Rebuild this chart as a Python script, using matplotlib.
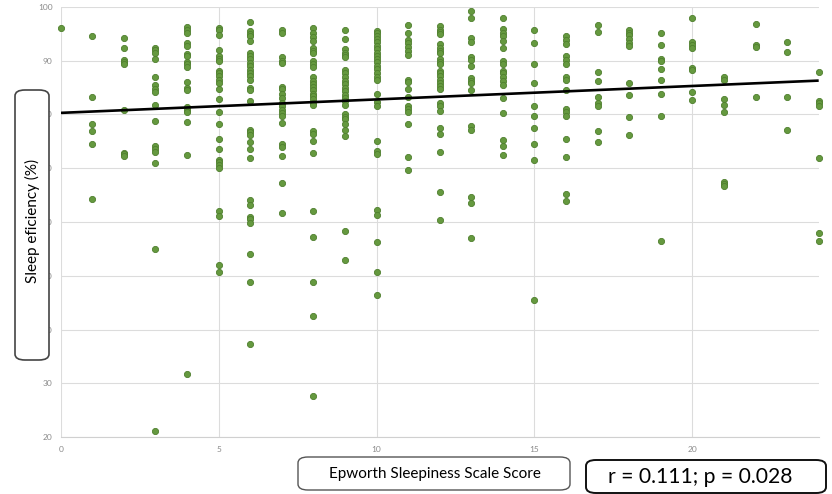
import numpy as np
import matplotlib
matplotlib.use("Agg")
import matplotlib.pyplot as plt
from matplotlib.patches import FancyBboxPatch

# Epworth Sleepiness Scale score (x) and sleep efficiency values per score (y)
ess_scores = list(range(25))
sleep_eff_by_score = [
    [96.0],
    [94.6, 83.2, 78.3, 76.9, 74.6, 64.2],
    [94.3, 92.3, 90.2, 89.8, 89.3, 80.9, 72.9, 72.6, 72.3],
    [92.4, 92.0, 91.5, 90.4, 87.0, 85.4, 84.8, 84.2, 81.8, 78.7, 74.1, 73.6,
     73.1, 71.0, 55.0, 21.1],
    [96.2, 95.7, 95.2, 93.2, 92.7, 91.2, 90.8, 89.8, 89.3, 88.9, 86.0, 85.0,
     84.5, 81.3, 80.8, 80.4, 78.6, 72.5, 31.7],
    [96.1, 95.7, 94.7, 91.9, 90.9, 90.4, 89.9, 88.0, 87.7, 87.2, 86.5, 85.8,
     84.8, 82.8, 80.5, 78.3, 75.4, 73.5, 71.6, 71.1, 70.7, 70.1, 62.0, 61.1,
     52.0, 50.7],
    [97.2, 95.5, 95.0, 94.6, 93.7, 91.5, 90.9, 90.4, 89.5, 89.0, 88.2, 87.7,
     87.2, 86.4, 85.0, 84.5, 82.5, 77.2, 76.7, 76.1, 74.9, 73.5, 72.0, 64.1,
     63.1, 61.0, 60.5, 59.9, 54.1, 48.9, 37.4],
    [95.7, 95.2, 90.6, 90.0, 89.5, 85.2, 84.7, 83.9, 83.1, 82.2, 81.5, 80.8,
     80.2, 79.7, 78.5, 74.6, 74.0, 72.2, 67.2, 61.7],
    [96.0, 95.2, 94.4, 93.7, 92.3, 91.8, 91.4, 90.0, 89.4, 88.8, 87.0, 86.2,
     85.6, 85.1, 84.5, 83.9, 83.4, 82.8, 82.2, 81.8, 76.9, 76.3, 75.0, 72.9,
     62.0, 57.2, 48.9, 42.6, 27.6],
    [95.7, 94.1, 92.1, 91.5, 91.0, 90.6, 88.3, 87.7, 87.0, 86.2, 85.6, 85.0,
     84.4, 83.7, 83.1, 82.5, 81.7, 80.1, 79.6, 79.1, 78.3, 77.1, 76.0, 58.4,
     53.0],
    [95.5, 95.1, 94.6, 94.0, 93.4, 92.7, 92.1, 91.5, 90.9, 90.3, 89.7, 89.0,
     88.4, 87.7, 87.0, 86.5, 83.9, 82.3, 81.5, 75.0, 73.2, 72.6, 62.2, 61.4,
     56.3, 50.7, 46.4],
    [96.6, 95.2, 93.9, 93.2, 92.6, 91.8, 91.0, 86.5, 86.0, 84.8, 83.3, 81.6,
     81.0, 80.4, 78.3, 72.1, 69.6],
    [96.4, 95.8, 95.3, 94.9, 93.1, 92.4, 91.8, 91.4, 90.3, 89.8, 89.3, 88.1,
     87.7, 87.2, 86.5, 85.9, 85.3, 84.8, 82.1, 81.6, 80.6, 77.4, 76.3, 73.0,
     65.6, 60.4],
    [99.2, 98.0, 94.2, 93.4, 90.6, 90.1, 89.0, 86.7, 86.2, 85.9, 84.5, 77.9,
     77.2, 64.7, 63.6, 57.0],
    [98.0, 95.9, 95.2, 94.5, 93.7, 92.3, 90.0, 89.4, 88.1, 87.7, 87.0, 86.2,
     85.4, 83.0, 80.3, 75.3, 74.1, 72.4],
    [95.7, 93.2, 89.3, 85.9, 81.6, 79.7, 77.4, 74.5, 71.6, 45.6],
    [94.5, 93.9, 93.1, 90.9, 90.1, 89.3, 86.9, 86.4, 84.6, 81.1, 80.4, 79.8,
     75.5, 72.1, 65.3, 63.9],
    [96.6, 95.4, 87.9, 86.2, 83.3, 82.1, 81.6, 77.0, 74.9],
    [95.7, 95.2, 94.7, 94.1, 93.2, 92.7, 85.9, 83.7, 79.5, 76.2],
    [95.2, 92.9, 90.4, 89.9, 88.4, 86.4, 83.9, 79.7, 56.4],
    [98.0, 93.4, 92.9, 92.4, 88.7, 88.3, 84.2, 82.7],
    [86.9, 86.5, 82.9, 81.7, 80.4, 67.4, 67.1, 66.7],
    [96.8, 92.9, 92.6, 83.3],
    [93.4, 91.7, 83.2, 77.2],
    [87.9, 82.5, 82.1, 81.5, 72.0, 58.0, 56.4],
]

# linear trend line as shown in the chart
trend_intercept = 80.3
trend_slope = 0.25

x_ticks = [0, 5, 10, 15, 20]
y_ticks = [20, 30, 40, 50, 60, 70, 80, 90, 100]

plt.rcParams['font.family'] = ['Lato', 'DejaVu Sans']

fig = plt.figure(figsize=(8.32, 4.94), dpi=100)
ax = fig.add_axes([0.073, 0.115, 0.911, 0.871])

xs = np.concatenate([[s] * len(v) for s, v in zip(ess_scores, sleep_eff_by_score)])
ys = np.concatenate(sleep_eff_by_score)
ax.scatter(xs, ys, s=20, color='#65993f', edgecolors='#4f7f2e',
           linewidths=0.6, zorder=3, clip_on=False)

tx = np.array([0, 24])
ax.plot(tx, trend_intercept + trend_slope * tx, color='black', lw=1.9,
        zorder=4, solid_capstyle='butt')

ax.set_xlim(0, 24)
ax.set_ylim(20, 100)
ax.set_xticks(x_ticks)
ax.set_yticks(y_ticks)
ax.grid(True, color='#dcdcdc', lw=0.8)
ax.set_axisbelow(True)
for side in ['top', 'right', 'left']:
    ax.spines[side].set_visible(False)
ax.spines['bottom'].set_color('#d0d0d0')
ax.tick_params(length=0, labelsize=6, labelcolor='#8a8a8a', pad=6)

# label boxes
def label_box(x0, y0, x1, y1, lw, ec):
    # pixel coords (top-left origin) to figure fraction
    W, H = 832, 494
    box = FancyBboxPatch((x0 / W, 1 - y1 / H), (x1 - x0) / W, (y1 - y0) / H,
                         boxstyle='round,pad=0,rounding_size=0.012',
                         transform=fig.transFigure, facecolor='white',
                         edgecolor=ec, lw=lw, zorder=10)
    fig.patches.append(box)

label_box(15, 90, 49, 360, 1.2, '#444444')
fig.text(32 / 832, 1 - 221 / 494, 'Sleep eficiency (%)', rotation=90,
         ha='center', va='center', fontsize=11, zorder=11)

label_box(298, 457, 570, 490, 1.0, '#555555')
fig.text(435 / 832, 1 - 474 / 494, 'Epworth Sleepiness Scale Score',
         ha='center', va='center', fontsize=11, zorder=11)

label_box(586, 460, 826, 493, 1.4, '#111111')
fig.text(700 / 832, 1 - 477 / 494, 'r = 0.111; p = 0.028',
         ha='center', va='center', fontsize=15.2, zorder=11)

fig.savefig('out.png', dpi=100)
